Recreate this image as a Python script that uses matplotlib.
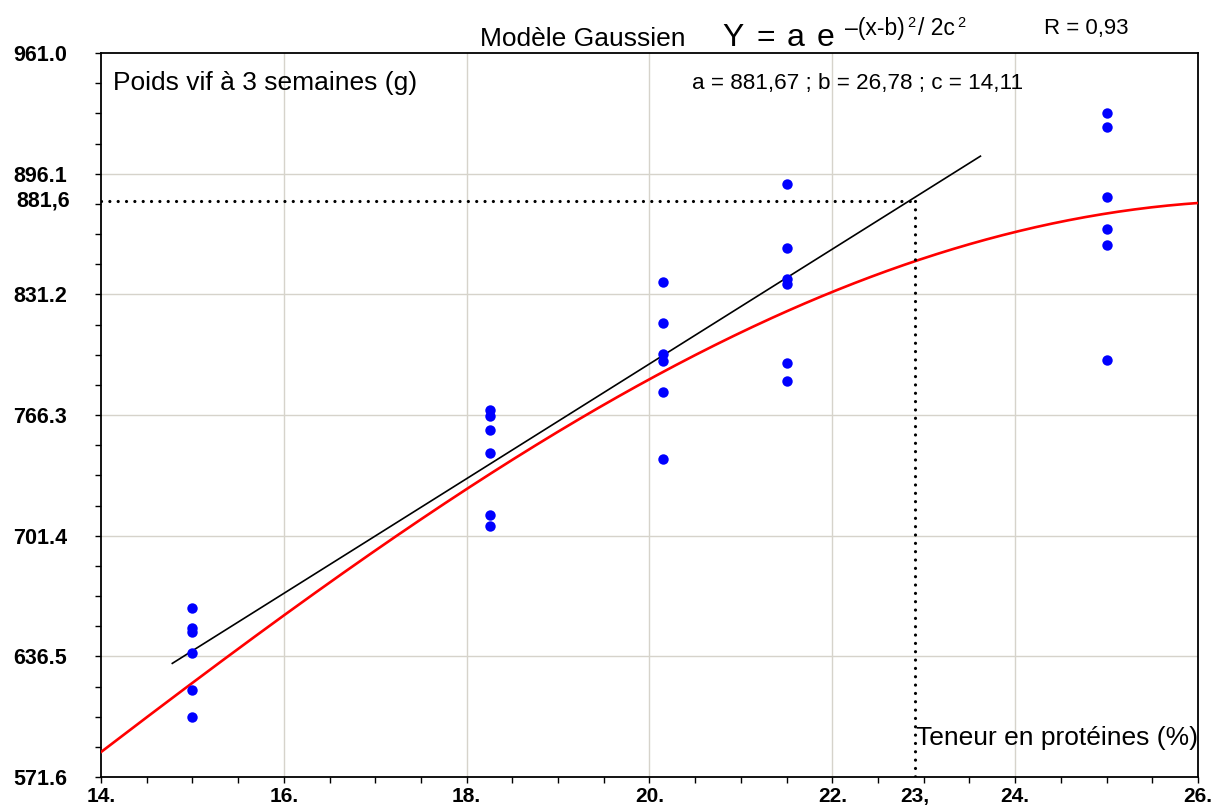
import numpy as np
import matplotlib
matplotlib.use("Agg")
import matplotlib.pyplot as plt
from matplotlib.ticker import FixedLocator, MultipleLocator

plt.rcParams['font.family'] = ['Liberation Sans', 'DejaVu Sans']

# Observations: protein content (%) and live weight at 3 weeks (g)
protein_levels = [15.0, 18.25, 20.15, 21.5, 25.0]
weights_15 = [662.4, 652.0, 649.8, 638.3, 618.5, 604.1]
weights_18 = [769.0, 765.8, 758.2, 746.0, 712.4, 706.6]
weights_20 = [838.0, 815.8, 799.0, 795.4, 778.5, 742.6]
weights_21 = [890.7, 856.0, 839.7, 836.8, 794.2, 784.8]
weights_25 = [928.6, 921.1, 883.5, 866.6, 857.6, 796.0]
weight_groups = [weights_15, weights_18, weights_20, weights_21, weights_25]

# Gaussian model parameters
gauss_a = 881.67
gauss_b = 26.78
gauss_c = 14.11
r_value = "0,93"

# Linear trend
lin_slope = 30.86
lin_intercept = 176.6
lin_x = [14.78, 23.62]

# Optimum reading
opt_x = 22.9
opt_y = 881.6

x_min, x_max = 14.0, 26.0
y_ticks = [571.6, 636.5, 701.4, 766.3, 831.2, 896.1, 961.0]
x_ticks = [14, 16, 18, 20, 22, 24, 26]
x_tick_labels = ["14.", "16.", "18.", "20.", "22.", "24.", "26."]

W, H = 1217, 809
fig = plt.figure(figsize=(W / 100, H / 100), dpi=100)
ax = fig.add_axes([101 / W, 1 - 777 / H, (1198 - 101) / W, (777 - 53) / H])

ax.set_xlim(x_min, x_max)
ax.set_ylim(y_ticks[0], y_ticks[-1])

# grid
grid_color = '#d6d3cb'
for xv in x_ticks[1:-1]:
    ax.axvline(xv, color=grid_color, lw=1.0, zorder=0)
for yv in y_ticks[1:-1]:
    ax.axhline(yv, color=grid_color, lw=1.0, zorder=0)

# Gaussian curve
xs = np.linspace(x_min, x_max, 400)
ys = gauss_a * np.exp(-(xs - gauss_b) ** 2 / (2 * gauss_c ** 2))
ax.plot(xs, ys, color='#ff0000', lw=1.9, zorder=3)

# linear trend
lx = np.array(lin_x)
ax.plot(lx, lin_slope * lx + lin_intercept, color='black', lw=1.2, zorder=4)

# observations
for xv, group in zip(protein_levels, weight_groups):
    ax.plot([xv] * len(group), group, 'o', color='#0000ff', ms=7.5,
            mec='none', zorder=5, clip_on=False)

# optimum dotted guides
dot_style = dict(color='black', lw=2.3, linestyle=(0, (0.01, 2.6)),
                 dash_capstyle='round', zorder=6)
ax.plot([x_min, opt_x], [opt_y, opt_y], **dot_style)
ax.plot([opt_x, opt_x], [opt_y, y_ticks[0]], **dot_style)

# ticks
ax.xaxis.set_major_locator(FixedLocator(x_ticks))
ax.set_xticklabels(x_tick_labels)
ax.xaxis.set_minor_locator(MultipleLocator(0.5))
ax.yaxis.set_major_locator(FixedLocator(y_ticks))
ax.set_yticklabels([f"{v:.1f}" for v in y_ticks])
step = (y_ticks[1] - y_ticks[0]) / 4
ax.yaxis.set_minor_locator(FixedLocator(
    [y_ticks[0] + i * step for i in range(25)]))
ax.tick_params(axis='both', which='both', direction='out', length=4.5,
               width=1.0, color='black')
ax.tick_params(axis='x', which='major', pad=2.5, labelsize=15)
ax.tick_params(axis='y', which='major', pad=20, labelsize=15.5)
for lab in ax.get_xticklabels() + ax.get_yticklabels():
    lab.set_fontweight('bold')

for sp in ax.spines.values():
    sp.set_linewidth(1.3)
    sp.set_color('black')

# extra labels for the optimum
ax.annotate("23,", xy=(opt_x, 0), xycoords=('data', 'axes fraction'),
            xytext=(0, -7.0), textcoords='offset points', ha='center',
            va='top', fontsize=15, fontweight='bold')
ax.annotate("881,6", xy=(0, opt_y), xycoords=('axes fraction', 'data'),
            xytext=(-22.5, 0), textcoords='offset points', ha='right',
            va='center', fontsize=15.5, fontweight='bold')


def fx(px):
    return px / W


def fy(py):
    return 1 - py / H


# axis captions inside the frame
fig.text(fx(113), fy(90), "Poids vif à 3 semaines (g)", fontsize=19,
         va='baseline', ha='left')
fig.text(fx(1198), fy(745), "Teneur en protéines (%)", fontsize=19,
         va='baseline', ha='right')

# model header
fig.text(fx(480), fy(46), "Modèle Gaussien", fontsize=19, va='baseline')
for px, s in [(722, "Y"), (757, "="), (787, "a"), (817, "e")]:
    fig.text(fx(px), fy(46), s, fontsize=23, va='baseline')
fig.canvas.draw()
renderer = fig.canvas.get_renderer()


def put(px, py, s, size):
    t = fig.text(fx(px), fy(py), s, fontsize=size, va='baseline')
    bb = t.get_window_extent(renderer)
    return bb.x1


x = put(845, 35, "–(x-b)", 16.5)
x = put(x + 2, 27, "2", 10.5)
x = put(x + 3, 35, "/ 2c", 16.5)
put(x + 3, 27, "2", 10.5)

fig.text(fx(1044), fy(34), f"R = {r_value}", fontsize=16, va='baseline')
fig.text(fx(692), fy(89),
         f"a = {gauss_a:.2f} ; b = {gauss_b:.2f} ; c = {gauss_c:.2f}".replace('.', ','),
         fontsize=16.2, va='baseline')

fig.savefig("out.png", dpi=100)
